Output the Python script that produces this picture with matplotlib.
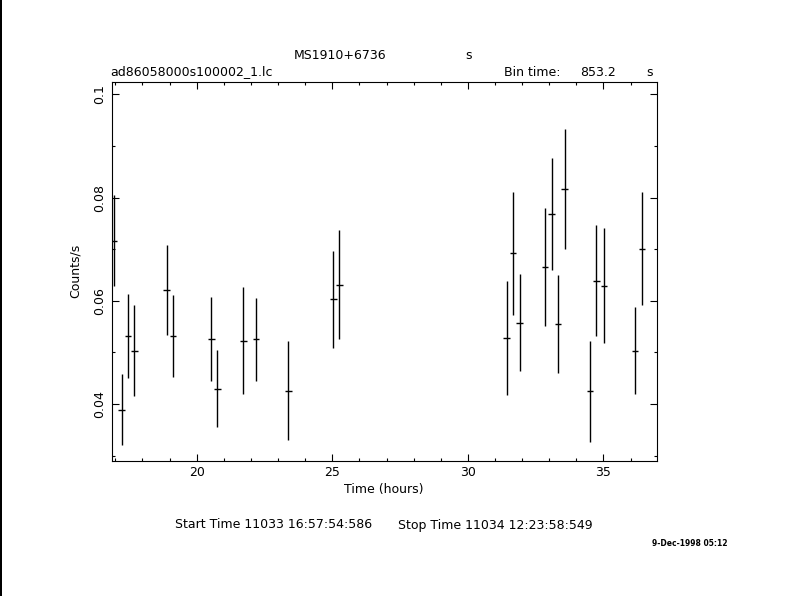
"""Light curve of MS1910+6736 (ASCA SIS, 853.2 s bins) in the old xronos look."""
import numpy as np
import matplotlib
matplotlib.use('Agg')
import matplotlib.pyplot as plt
from matplotlib.ticker import MultipleLocator

plt.rcParams.update({
    'font.family': 'DejaVu Sans',
    'font.size': 9,
    'axes.linewidth': 0.8,
})

# time bins (hours), rate (counts/s) and 1-sigma errors
time_hr = [16.95, 17.23, 17.46, 17.70, 18.89, 19.12, 20.54, 20.76, 21.72, 22.19, 23.38,
           25.04, 25.26, 31.43, 31.67, 31.91, 32.85, 33.09, 33.33, 33.57, 34.51, 34.74,
           35.01, 36.17, 36.41]
rate = [0.0716, 0.0389, 0.0532, 0.0503, 0.0621, 0.0532, 0.0526, 0.0430, 0.0523, 0.0525, 0.0426,
        0.0603, 0.0631, 0.0528, 0.0692, 0.0557, 0.0666, 0.0768, 0.0555, 0.0817, 0.0425, 0.0639,
        0.0629, 0.0503, 0.0701]
rate_err = [0.0088, 0.0069, 0.0082, 0.0088, 0.0088, 0.0080, 0.0081, 0.0074, 0.0104, 0.0080, 0.0096,
            0.0094, 0.0106, 0.0111, 0.0119, 0.0094, 0.0114, 0.0109, 0.0095, 0.0116, 0.0098, 0.0108,
            0.0111, 0.0084, 0.0110]
bin_time = 853.2  # s

W, H = 790, 596
fig = plt.figure(figsize=(W/100, H/100), dpi=100)
L, R, T, B = 111.7, 657.3, 82.3, 460.7
ax = fig.add_axes([L/W, 1-B/H, (R-L)/W, (B-T)/H])

half_bin = bin_time/3600/2
ax.errorbar(time_hr, rate, yerr=rate_err, xerr=half_bin, fmt='none',
            ecolor='black', elinewidth=1.0, capsize=0)

ax.set_xlim(16.866, 36.984)
ax.set_ylim(0.02902, 0.10232)
ax.xaxis.set_major_locator(MultipleLocator(5))
ax.xaxis.set_minor_locator(MultipleLocator(1))
ax.yaxis.set_major_locator(MultipleLocator(0.02))
ax.yaxis.set_minor_locator(MultipleLocator(0.01))
ax.yaxis.set_major_formatter(plt.FuncFormatter(lambda v, p: f'{v:g}'))
ax.tick_params(which='both', direction='in', top=True, right=True, width=0.8)
ax.tick_params(which='major', length=5, pad=4)
ax.tick_params(which='minor', length=2.5)
for lab in ax.get_yticklabels():
    lab.set_rotation(90); lab.set_va('center')

def ft(x, y, s, **kw):
    fig.text(x/W, 1-y/H, s, va='center', **kw)

ft(75, 271, 'Counts/s', rotation=90, ha='center')
ft(384, 490, 'Time (hours)', ha='center')
ft(340, 55.7, 'MS1910+6736', ha='center')
ft(469, 55.7, 's', ha='center')
ft(110, 72, 'ad86058000s100002_1.lc', ha='left')
ft(504, 72, 'Bin time:', ha='left')
ft(580, 72, f'{bin_time:.1f}', ha='left')
ft(650, 72, 's', ha='center')
ft(175, 525, 'Start Time 11033 16:57:54:586', ha='left')
ft(398, 525, 'Stop Time 11034 12:23:58:549', ha='left')
ft(652, 544, '9-Dec-1998 05:12', ha='left', fontsize=5.5, fontweight='bold')

# black border down the left edge, as in the original gif
fig.add_artist(plt.Line2D([1/W, 1/W], [0, 1], color='black', lw=1.44,
                          transform=fig.transFigure, antialiased=False))

fig.savefig('out.png', dpi=100)
